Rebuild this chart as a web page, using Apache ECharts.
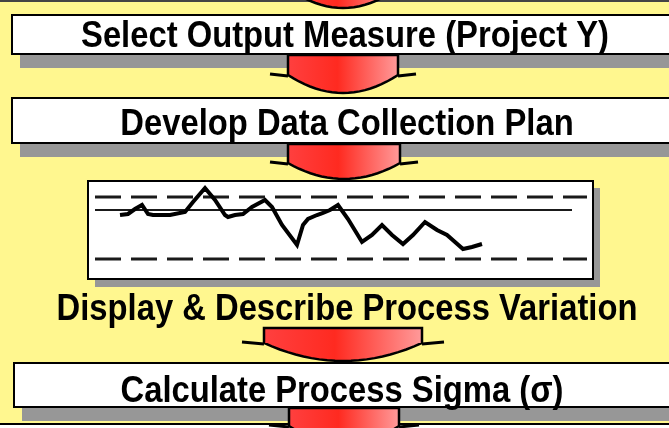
<!DOCTYPE html>
<html>
<head>
<meta charset="utf-8">
<script src="https://cdn.jsdelivr.net/npm/echarts@6/dist/echarts.min.js"></script>
<style>
  html, body { margin: 0; padding: 0; background: #fff78f; }
  #chart { width: 669px; height: 428px; }
</style>
</head>
<body>
<div id="chart"></div>
<script>
// flow steps
const steps = [
  "Select Output Measure (Project Y)",
  "Develop Data Collection Plan",
  "Display & Describe Process Variation",
  "Calculate Process Sigma (σ)"
]

// run chart inside the third step (sample position, measured value)
const sampleX = [3.3, 4.1, 4.8, 5.5, 6.1, 6.6, 8.3, 9.8, 10.6, 11.8, 12.8, 13.8, 14.1, 14.8, 15.6, 16.5, 17.8, 18.5, 19.5, 21.0,
  21.6, 22.1, 23.0, 23.6, 24.3, 25.1, 26.1, 27.5, 28.5, 29.5, 30.5, 31.6, 32.6, 33.8, 35.0, 36.0, 36.8, 37.6, 38.5, 39.5]
const sampleY = [65, 66, 71, 75, 66, 65, 65, 68, 78, 92, 80, 65, 63, 65, 66, 73, 80, 73, 55, 35,
  55, 61, 65, 67, 70, 75, 61, 38, 45, 55, 45, 36, 45, 58, 50, 45, 38, 31, 33, 36]

// control limits
const limitX = [0.8, 50.0]
const centerX = [0.8, 48.5]
const ucl = 83
const cl = 70
const lcl = 21

const chart = echarts.init(document.getElementById("chart"))

const redFill = () => new echarts.graphic.LinearGradient(0, 0, 1, 0, [
  { offset: 0, color: "#ff4040" },
  { offset: 0.45, color: "#ff2a20" },
  { offset: 1, color: "#ff9c9c" }
])

// down arrow with a rounded point and little black wings
function arrow(cx, halfW, top, flangeY, tipY, wing) {
  const pts = [[cx - halfW, top], [cx - halfW, flangeY]]
  for (let i = 1; i < 20; i++) {
    const u = -1 + i / 10
    pts.push([cx + u * halfW, flangeY + (tipY - flangeY) * (1 - u * u)])
  }
  pts.push([cx + halfW, flangeY], [cx + halfW, top])
  return [
    { type: "line", shape: { x1: cx - halfW - wing, y1: flangeY - 1, x2: cx - halfW, y2: flangeY + 1 },
      style: { stroke: "#000", lineWidth: 3 } },
    { type: "line", shape: { x1: cx + halfW, y1: flangeY + 1, x2: cx + halfW + wing, y2: flangeY - 1 },
      style: { stroke: "#000", lineWidth: 3 } },
    { type: "polygon", shape: { points: pts },
      style: { fill: redFill(), stroke: "#000", lineWidth: 2.5 } }
  ]
}

function stepBox(x, y, w, h) {
  return [
    { type: "rect", shape: { x: x + 8, y: y + h, width: w + 40, height: 14 }, style: { fill: "#979797" } },
    { type: "rect", shape: { x: x, y: y, width: w, height: h }, style: { fill: "#fff", stroke: "#000", lineWidth: 2 } }
  ]
}

function label(text, cx, cy) {
  return {
    type: "text", x: cx, y: cy, scaleX: 0.91,
    style: {
      text: text, x: 0, y: 0, align: "center", verticalAlign: "middle",
      fill: "#000", fontSize: 36, fontWeight: "bold", fontFamily: "Liberation Sans, Arial, sans-serif"
    }
  }
}

const elements = [].concat(
  [{ type: "line", shape: { x1: 0, y1: 1, x2: 669, y2: 1 }, style: { stroke: "#444", lineWidth: 2 } }],
  arrow(343, 55, -14, -12, 8, 0),
  stepBox(12, 15, 660, 39),
  [label(steps[0], 345, 37)],
  arrow(343, 55, 55, 75, 93, 18),
  stepBox(12, 98, 660, 45),
  [label(steps[1], 347, 125)],
  arrow(344, 56, 144, 163, 179, 18),
  [
    { type: "rect", shape: { x: 95, y: 188, width: 505, height: 99 }, style: { fill: "#979797" } },
    { type: "rect", shape: { x: 88, y: 181, width: 505, height: 98 }, style: { fill: "#fff", stroke: "#000", lineWidth: 2 } }
  ],
  [label(steps[2], 347, 310)],
  arrow(343, 79, 328, 343, 361, 22),
  stepBox(14, 363, 660, 44),
  [label(steps[3], 342, 392)],
  [{ type: "rect", shape: { x: -5, y: 424, width: 700, height: 30 }, style: { fill: "#fff", stroke: "#000", lineWidth: 2 } }],
  arrow(344, 55, 408, 426, 444, 20)
)
elements.forEach((e, i) => { e.z = 0; e.z2 = i })

const limitLine = (xs, v, dashed, width) => ({
  type: "line",
  data: xs.map(x => [x, v]),
  symbol: "none",
  silent: true,
  lineStyle: { color: "#1a1a1a", width: width, type: dashed ? [26, 10] : "solid" }
})

chart.setOption({
  backgroundColor: "#fff78f",
  animation: false,
  graphic: { elements: elements },
  grid: { left: 87, top: 180, width: 506, height: 100 },
  xAxis: { type: "value", min: 0, max: 50.6, show: false },
  yAxis: { type: "value", min: 0, max: 100, show: false },
  series: [
    limitLine(limitX, ucl, true, 3),
    limitLine(centerX, cl, false, 2),
    limitLine(limitX, lcl, true, 3),
    {
      type: "line",
      data: sampleX.map((x, i) => [x, sampleY[i]]),
      symbol: "none",
      lineStyle: { color: "#000", width: 4, join: "miter" }
    }
  ]
})
</script>
</body>
</html>
